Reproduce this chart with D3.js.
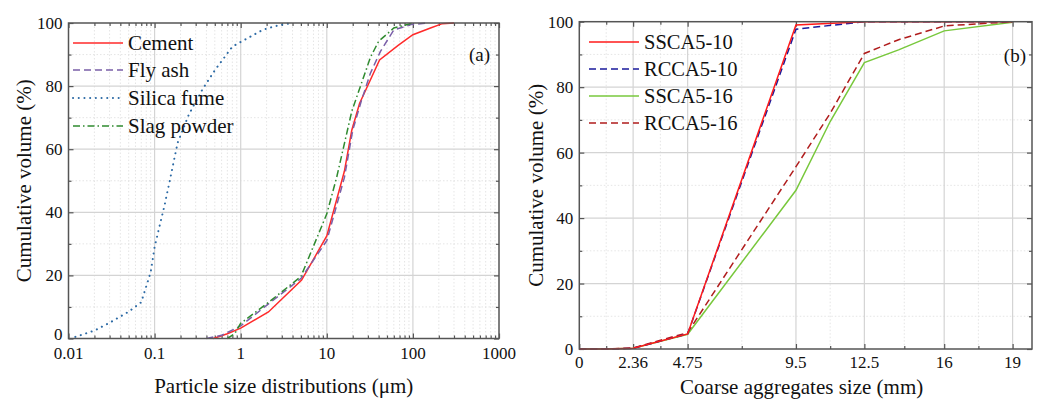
<!DOCTYPE html>
<html><head><meta charset="utf-8">
<script src="https://cdn.jsdelivr.net/npm/d3@7"></script>
<style>
body{margin:0;background:#fff;}
svg text{font-family:"Liberation Serif","DejaVu Serif",serif;fill:#111;}
</style></head>
<body><svg id="c" width="1043" height="402"></svg>
<script>
// ---------- Panel (a) data ----------
const cementData = [[0.48,0],[0.7,1.5],[1,3.3],[2.1,8.4],[5.1,18.5],[10,32.5],[16,53],[19.5,66],[24,74.5],[41,88.3],[68,93],[100,96.3],[160,98.4],[220,99.8],[300,100]];
const flyAshData = [[0.4,0],[0.6,1],[1,4],[2,10.5],[5,19],[10,31],[16,51],[20,66],[25,75],[32,84],[42,91],[60,97.8],[95,99.5],[150,100]];
const silicaFumeData = [[0.012,0.5],[0.02,2.5],[0.03,5],[0.05,8.5],[0.07,11.5],[0.09,21],[0.1,29],[0.115,36],[0.13,42],[0.15,50],[0.185,62],[0.25,71],[0.36,79],[0.5,85],[0.8,92.5],[1,94],[1.8,97.8],[2.5,99],[4,100]];
const slagData = [[0.7,0],[0.85,1.5],[1,4.8],[2,11],[5,19.6],[10,39.5],[13,51],[19.5,72],[32,89],[40,94.2],[60,98.4],[100,100]];
const seriesNamesA = ["Cement","Fly ash","Silica fume","Slag powder"];
const xTicksA = [0.01,0.1,1,10,100,1000];
const xTickLabelsA = ["0.01","0.1","1","10","100","1000"];
const yTicks = [0,20,40,60,80,100];

// ---------- Panel (b) data ----------
const sizesB = [0,1.18,2.36,4.75,9.5,12.5,16,19];
const ssca510 = [0,0,0.2,4.6,99,100,100,100];
const rcca510 = [0,0,0.2,4.6,97.7,100,100,100];
const ssca516 = [0,0,0.2,4.5,48.5,87.5,97.2,99.8];
const rcca516 = [0,0,0.3,5.0,55.7,90.3,98.7,100];
const extraSSCA516 = [[11,69.5],[14,91.4]];
const extraRCCA516 = [[11,72],[14,94.5]];
const seriesNamesB = ["SSCA5-10","RCCA5-10","SSCA5-16","RCCA5-16"];
const xTicksB = [0,2.36,4.75,9.5,12.5,16,19];
const xTickLabelsB = ["0","2.36","4.75","9.5","12.5","16","19"];

const svg = d3.select("#c");
const frameCol = "#555";
const tickFont = 17;

function drawFrame(g, x, y, w, h){
  g.append("rect").attr("x",x).attr("y",y).attr("width",w).attr("height",h)
   .attr("fill","none").attr("stroke",frameCol).attr("stroke-width",1.5);
}
function ticksAndGrid(g,x,y,L,R,T,B,majX,minX,gridX){
  const minorY=[10,30,50,70,90];
  g.selectAll(".mgx").data(minX).join("line")
    .attr("x1",d=>x(d)).attr("x2",d=>x(d)).attr("y1",T).attr("y2",B)
    .attr("stroke","#dedede").attr("stroke-width",0.8).attr("stroke-dasharray","1.5,2");
  g.selectAll(".mgy").data(minorY).join("line")
    .attr("x1",L).attr("x2",R).attr("y1",d=>y(d)).attr("y2",d=>y(d))
    .attr("stroke","#dedede").attr("stroke-width",0.8).attr("stroke-dasharray","1.5,2");
  g.selectAll(".gx").data(gridX).join("line")
    .attr("x1",d=>x(d)).attr("x2",d=>x(d)).attr("y1",T).attr("y2",B)
    .attr("stroke","#d4d4d4").attr("stroke-width",1.2);
  g.selectAll(".gy").data(yTicks.slice(1,-1)).join("line")
    .attr("x1",L).attr("x2",R).attr("y1",d=>y(d)).attr("y2",d=>y(d))
    .attr("stroke","#d4d4d4").attr("stroke-width",1.2);
  const axes = [
    [d3.axisTop(x).tickValues(majX).tickSize(5),`translate(0,${B})`],
    [d3.axisTop(x).tickValues(minX).tickSize(3),`translate(0,${B})`],
    [d3.axisBottom(x).tickValues(majX).tickSize(5),`translate(0,${T})`],
    [d3.axisBottom(x).tickValues(minX).tickSize(3),`translate(0,${T})`],
    [d3.axisRight(y).tickValues(yTicks).tickSize(5),`translate(${L},0)`],
    [d3.axisRight(y).tickValues(minorY).tickSize(3),`translate(${L},0)`],
    [d3.axisLeft(y).tickValues(yTicks).tickSize(5),`translate(${R},0)`],
    [d3.axisLeft(y).tickValues(minorY).tickSize(3),`translate(${R},0)`]
  ];
  axes.forEach(([a,t])=>{const s=g.append("g").attr("transform",t).call(a.tickFormat(""));
     s.select(".domain").remove(); s.selectAll("line").attr("stroke",frameCol).attr("stroke-width",1.2);});
}

// ================= Panel A =================
(function(){
  const L=68.5, R=499, T=23, B=338.5;
  const x = d3.scaleLog().domain([0.01,1000]).range([L,R]);
  const y = d3.scaleLinear().domain([0,100]).range([B,T]);
  const g = svg.append("g");
  const minorX = [];
  for(let e=-2;e<3;e++) for(let k=2;k<10;k++) minorX.push(k*Math.pow(10,e));
  ticksAndGrid(g,x,y,L,R,T,B,xTicksA,minorX,xTicksA.slice(1,-1));

  g.selectAll(".xl").data(xTicksA).join("text")
    .attr("x",d=>x(d)).attr("y",359).attr("text-anchor","middle").attr("font-size",tickFont)
    .text((d,i)=>xTickLabelsA[i]);
  g.selectAll(".yl").data(yTicks).join("text")
    .attr("x",L-6).attr("y",d=>y(d)+(d===0?1.5:6)).attr("text-anchor","end").attr("font-size",tickFont)
    .text(d=>d);

  const line = d3.line().x(d=>x(d[0])).y(d=>y(d[1]));
  const styles = [
    {data:cementData,col:"#ff2a2a",dash:null,w:1.5,cap:"butt"},
    {data:flyAshData,col:"#7a5fa8",dash:"7,4",w:1.5,cap:"butt"},
    {data:silicaFumeData,col:"#2c6aa5",dash:"0.1,5.6",w:2,cap:"round"},
    {data:slagData,col:"#2f8a2f",dash:"7,3,1.5,3",w:1.5,cap:"butt"}
  ];
  styles.forEach(s=>{
    g.append("path").datum(s.data).attr("d",line).attr("fill","none")
     .attr("stroke",s.col).attr("stroke-width",s.w).attr("stroke-dasharray",s.dash)
     .attr("stroke-linecap",s.cap);
  });
  drawFrame(g,L,T,R-L,B-T);

  const ly=[43,70,98,126];
  styles.forEach((s,i)=>{
    g.append("line").attr("x1",73).attr("x2",123).attr("y1",ly[i]).attr("y2",ly[i])
     .attr("stroke",s.col).attr("stroke-width",s.w).attr("stroke-dasharray",s.dash)
     .attr("stroke-linecap",s.cap);
    g.append("text").attr("x",128).attr("y",ly[i]+7).attr("font-size",21).text(seriesNamesA[i]);
  });
  g.append("text").attr("x",490).attr("y",61).attr("text-anchor","end").attr("font-size",19).text("(a)");
  g.append("text").attr("x",(L+R)/2).attr("y",393).attr("text-anchor","middle").attr("font-size",21)
    .text("Particle size distributions (\u03bcm)");
  g.append("text").attr("transform",`translate(31,${(T+B)/2}) rotate(-90)`).attr("text-anchor","middle")
    .attr("font-size",21).text("Cumulative volume (%)");
})();

// ================= Panel B =================
(function(){
  const L=579.3, R=1032, T=21.7, B=349;
  const x = d3.scaleLinear().domain([0,19.85]).range([L,R]);
  const y = d3.scaleLinear().domain([0,100]).range([B,T]);
  const g = svg.append("g");
  const minorX = xTicksB.slice(0,-1).map((d,i)=>(d+xTicksB[i+1])/2);
  ticksAndGrid(g,x,y,L,R,T,B,xTicksB,minorX,xTicksB.slice(1));

  g.selectAll(".xl").data(xTicksB).join("text")
    .attr("x",d=>x(d)).attr("y",368).attr("text-anchor","middle").attr("font-size",tickFont)
    .text((d,i)=>xTickLabelsB[i]);
  g.selectAll(".yl").data(yTicks).join("text")
    .attr("x",L-6).attr("y",d=>y(d)+6).attr("text-anchor","end").attr("font-size",tickFont)
    .text(d=>d);

  const mk = (vals, extra=[]) => sizesB.map((s,i)=>[s,vals[i]]).concat(extra).sort((a,b)=>a[0]-b[0]);
  const line = d3.line().x(d=>x(d[0])).y(d=>y(d[1]));
  const styles = [
    {data:mk(ssca510),col:"#ff1a1a",dash:null,w:1.5},
    {data:mk(rcca510),col:"#1a1a9c",dash:"7,4",w:1.5},
    {data:mk(ssca516,extraSSCA516),col:"#78c83c",dash:null,w:1.5},
    {data:mk(rcca516,extraRCCA516),col:"#b01c1c",dash:"7,4",w:1.5}
  ];
  [2,3,1,0].forEach(i=>{const s=styles[i];
    g.append("path").datum(s.data).attr("d",line).attr("fill","none")
     .attr("stroke",s.col).attr("stroke-width",s.w).attr("stroke-dasharray",s.dash);
  });
  drawFrame(g,L,T,R-L,B-T);

  const ly=[42,69,96,123];
  styles.forEach((s,i)=>{
    g.append("line").attr("x1",589).attr("x2",639).attr("y1",ly[i]).attr("y2",ly[i])
     .attr("stroke",s.col).attr("stroke-width",s.w).attr("stroke-dasharray",s.dash);
    g.append("text").attr("x",644).attr("y",ly[i]+7).attr("font-size",20.5).text(seriesNamesB[i]);
  });
  g.append("text").attr("x",1026).attr("y",62).attr("text-anchor","end").attr("font-size",19).text("(b)");
  g.append("text").attr("x",(L+R)/2-4).attr("y",394).attr("text-anchor","middle").attr("font-size",21)
    .text("Coarse aggregates size (mm)");
  g.append("text").attr("transform",`translate(543,${(T+B)/2}) rotate(-90)`).attr("text-anchor","middle")
    .attr("font-size",21).text("Cumulative volume (%)");
})();
</script></body></html>
